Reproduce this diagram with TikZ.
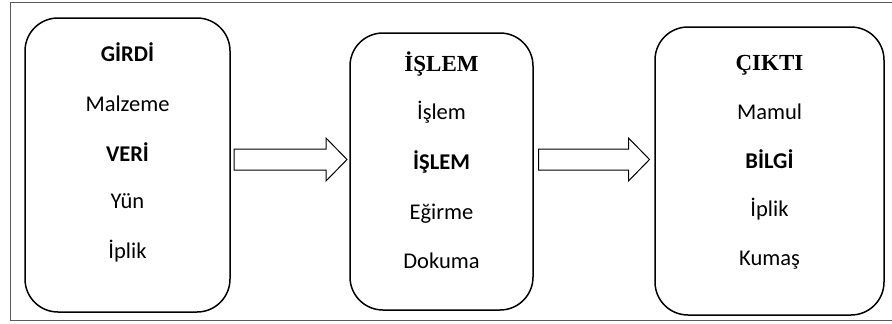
\documentclass[tikz,border=0pt]{standalone}
\usepackage{fontspec}
\setmainfont{Carlito}
\newfontfamily\serifhead{Liberation Serif}
\begin{document}
\begin{tikzpicture}[x=1pt,y=-1pt,
  stagebox/.style={draw=black,line width=1.5pt,rounded corners=33pt,inner sep=0pt},
  lbl/.style={font=\fontsize{22.5}{26}\selectfont,inner sep=0pt,anchor=base},
  hd/.style={lbl,font=\fontsize{22.5}{26}\selectfont\bfseries},
  shd/.style={lbl,font=\fontsize{23}{26}\selectfont\serifhead\bfseries},
  blockarrow/.style={draw=black,line width=1pt,fill=white,line join=miter}]
\useasboundingbox (0,0) rectangle (892,324);
\draw[gray!70!black,line width=1pt] (893,2.5) -- (10.5,2.5) -- (10.5,320) -- (893,320);
% boxes
\node[stagebox,minimum width=205pt,minimum height=294pt] (b1) at (127.5,165) {};
\node[stagebox,minimum width=183pt,minimum height=277pt] (b2) at (441.5,171.5) {};
\node[stagebox,minimum width=229pt,minimum height=288pt] (b3) at (769.5,171) {};
% texts box 1
\node[hd]  (t11) at (127.5,61.5) {GİRDİ};
\node[lbl] (t12) at (127.5,111.5) {Malzeme};
\node[hd]  (t13) at (127.5,161.5) {VERİ};
\node[lbl] (t14) at (127.5,208.5) {Yün};
\node[lbl] (t15) at (127.5,258.5) {İplik};
% texts box 2
\node[shd] (t21) at (441.5,71.5) {İŞLEM};
\node[lbl] (t22) at (441.5,119.5) {İşlem};
\node[hd]  (t23) at (441.5,169.5) {İŞLEM};
\node[lbl] (t24) at (441.5,219.5) {Eğirme};
\node[lbl] (t25) at (441.5,268.5) {Dokuma};
% texts box 3
\node[shd] (t31) at (769.5,70.5) {ÇIKTI};
\node[lbl] (t32) at (769.5,119.5) {Mamul};
\node[hd]  (t33) at (769.5,168.5) {BİLGİ};
\node[lbl] (t34) at (769.5,216.5) {İplik};
\node[lbl] (t35) at (769.5,265.5) {Kumaş};
% block arrows
\coordinate (a1) at (234,159.5);
\draw[blockarrow] (a1) ++(0,-10.5) -- ++(92,0) -- ++(0,-11) -- ++(21,21.5) -- ++(-21,21.5) -- ++(0,-11) -- ++(-92,0) -- cycle;
\coordinate (a2) at (538.5,159.5);
\draw[blockarrow] (a2) ++(0,-10.5) -- ++(90,0) -- ++(0,-11) -- ++(21,21.5) -- ++(-21,21.5) -- ++(0,-11) -- ++(-90,0) -- cycle;
\end{tikzpicture}
\end{document}
